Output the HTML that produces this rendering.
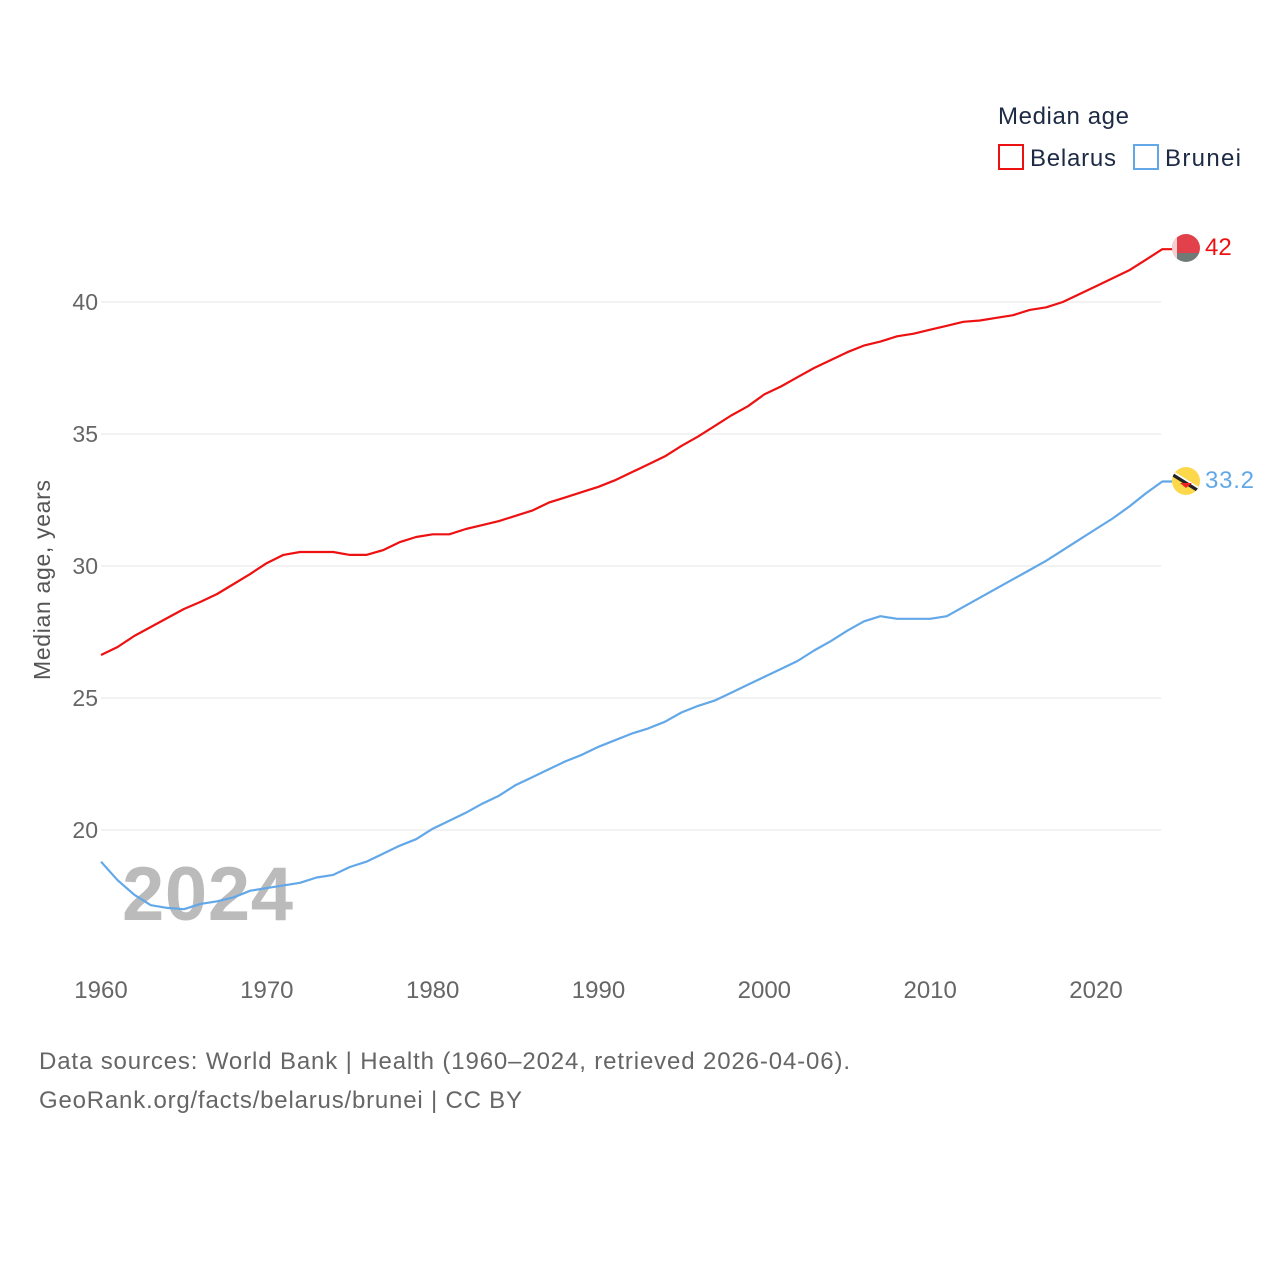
<!DOCTYPE html>
<html><head><meta charset="utf-8"><style>
body{margin:0;background:#fff;font-family:"Liberation Sans",sans-serif;}
svg text{font-family:"Liberation Sans",sans-serif;}
</style></head><body>
<svg width="1280" height="1280" xmlns="http://www.w3.org/2000/svg">
<g id="grid"></g>
<g id="yt"></g>
<g id="xt"></g>
<text x="50" y="580" transform="rotate(-90 50 580)" text-anchor="middle" font-size="23" textLength="200" fill="#555">Median age, years</text>
<text x="122" y="920" font-size="76" font-weight="bold" fill="#bbb" textLength="171">2024</text>
<g id="lines"></g>
<g>
<text x="998" y="124" font-size="24" fill="#1d2a44" textLength="131">Median age</text>
<g><rect x="999" y="145" width="24" height="24" fill="none" stroke="#ee1111" stroke-width="2"/><text x="1030" y="166" font-size="24" fill="#1d2a44" textLength="86">Belarus</text></g>
<g><rect x="1134" y="145" width="24" height="24" fill="none" stroke="#62a8e8" stroke-width="2"/><text x="1165" y="166" font-size="24" fill="#1d2a44" textLength="76">Brunei</text></g>
</g>
<g><clipPath id="c1"><circle cx="1186" cy="248" r="14"/></clipPath><g clip-path="url(#c1)"><rect x="1172" y="234" width="28" height="19" fill="#e2404a"/><rect x="1172" y="253" width="28" height="10" fill="#707a76"/><rect x="1172" y="234" width="5" height="28" fill="#f4d0d0"/></g></g>
<text x="1205" y="255" font-size="24" fill="#ee1111">42</text>
<g><clipPath id="c2"><circle cx="1186" cy="481" r="14"/></clipPath><g clip-path="url(#c2)"><rect x="1172" y="467" width="28" height="28" fill="#fcd84a"/><line x1="1170" y1="472" x2="1202" y2="492" stroke="#222" stroke-width="5"/><line x1="1170" y1="470" x2="1202" y2="490" stroke="#fff" stroke-width="2"/><path d="M1180 483 h12 l-6 5z" fill="#e22"/></g></g>
<text x="1205" y="488" font-size="24" fill="#62a8e8" textLength="49">33.2</text>
<text x="39" y="1069" font-size="24" fill="#666" textLength="811">Data sources: World Bank | Health (1960–2024, retrieved 2026-04-06).</text>
<text x="39" y="1108" font-size="24" fill="#666" textLength="483">GeoRank.org/facts/belarus/brunei | CC BY</text>
</svg>
<script>
const years=[];for(let y=1960;y<=2024;y++)years.push(y);
const belarus=[26.63,26.93,27.35,27.69,28.03,28.37,28.64,28.94,29.32,29.7,30.11,30.42,30.53,30.53,30.53,30.42,30.42,30.6,30.9,31.1,31.2,31.2,31.4,31.55,31.7,31.9,32.1,32.4,32.6,32.8,33.0,33.25,33.55,33.85,34.15,34.55,34.9,35.3,35.7,36.05,36.5,36.8,37.15,37.5,37.8,38.1,38.35,38.5,38.7,38.8,38.95,39.1,39.25,39.3,39.4,39.5,39.7,39.8,40.0,40.3,40.6,40.9,41.2,41.6,42.0];
const brunei=[18.8,18.1,17.55,17.15,17.05,17.0,17.2,17.3,17.45,17.7,17.8,17.9,18.0,18.2,18.3,18.6,18.8,19.1,19.4,19.65,20.05,20.35,20.65,21.0,21.3,21.7,22.0,22.3,22.6,22.85,23.15,23.4,23.65,23.85,24.1,24.45,24.7,24.9,25.2,25.5,25.8,26.1,26.4,26.8,27.15,27.55,27.9,28.1,28.0,28.0,28.0,28.1,28.45,28.8,29.15,29.5,29.85,30.2,30.6,31.0,31.4,31.8,32.25,32.75,33.2];
const yTicks=[20,25,30,35,40];
const xTicks=[1960,1970,1980,1990,2000,2010,2020];
const X=y=>101+(y-1960)*995/60, Y=v=>830-(v-20)*26.4;
const NS="http://www.w3.org/2000/svg";
function mk(t,a,p){const e=document.createElementNS(NS,t);for(const k in a)e.setAttribute(k,a[k]);p.appendChild(e);return e;}
const g=document.getElementById('grid'),yt=document.getElementById('yt'),xt=document.getElementById('xt'),L=document.getElementById('lines');
yTicks.forEach(v=>{const l=mk('line',{x1:101,x2:1161,y1:Y(v),y2:Y(v),stroke:'#e6e6e6','stroke-width':1},g);


const t=mk('text',{x:98,y:Y(v)+8,'text-anchor':'end','font-size':23,fill:'#666'},yt);t.textContent=v;

});
xTicks.forEach(v=>{const t=mk('text',{x:X(v),y:998,'text-anchor':'middle','font-size':24,fill:'#666'},xt);t.textContent=v;

});
function line(d,c,n){let p=d.map((v,i)=>(i?'L':'M')+X(years[i]).toFixed(1)+' '+Y(v).toFixed(1)).join(' ');
p+=' L1172 '+Y(d[d.length-1]).toFixed(1);
const e=mk('path',{d:p,fill:'none',stroke:c,'stroke-width':2.2,'stroke-linejoin':'round'},L);

}
line(belarus,'#ee1111','belarus-line');
line(brunei,'#62a8e8','brunei-line');
</script>
</body></html>
